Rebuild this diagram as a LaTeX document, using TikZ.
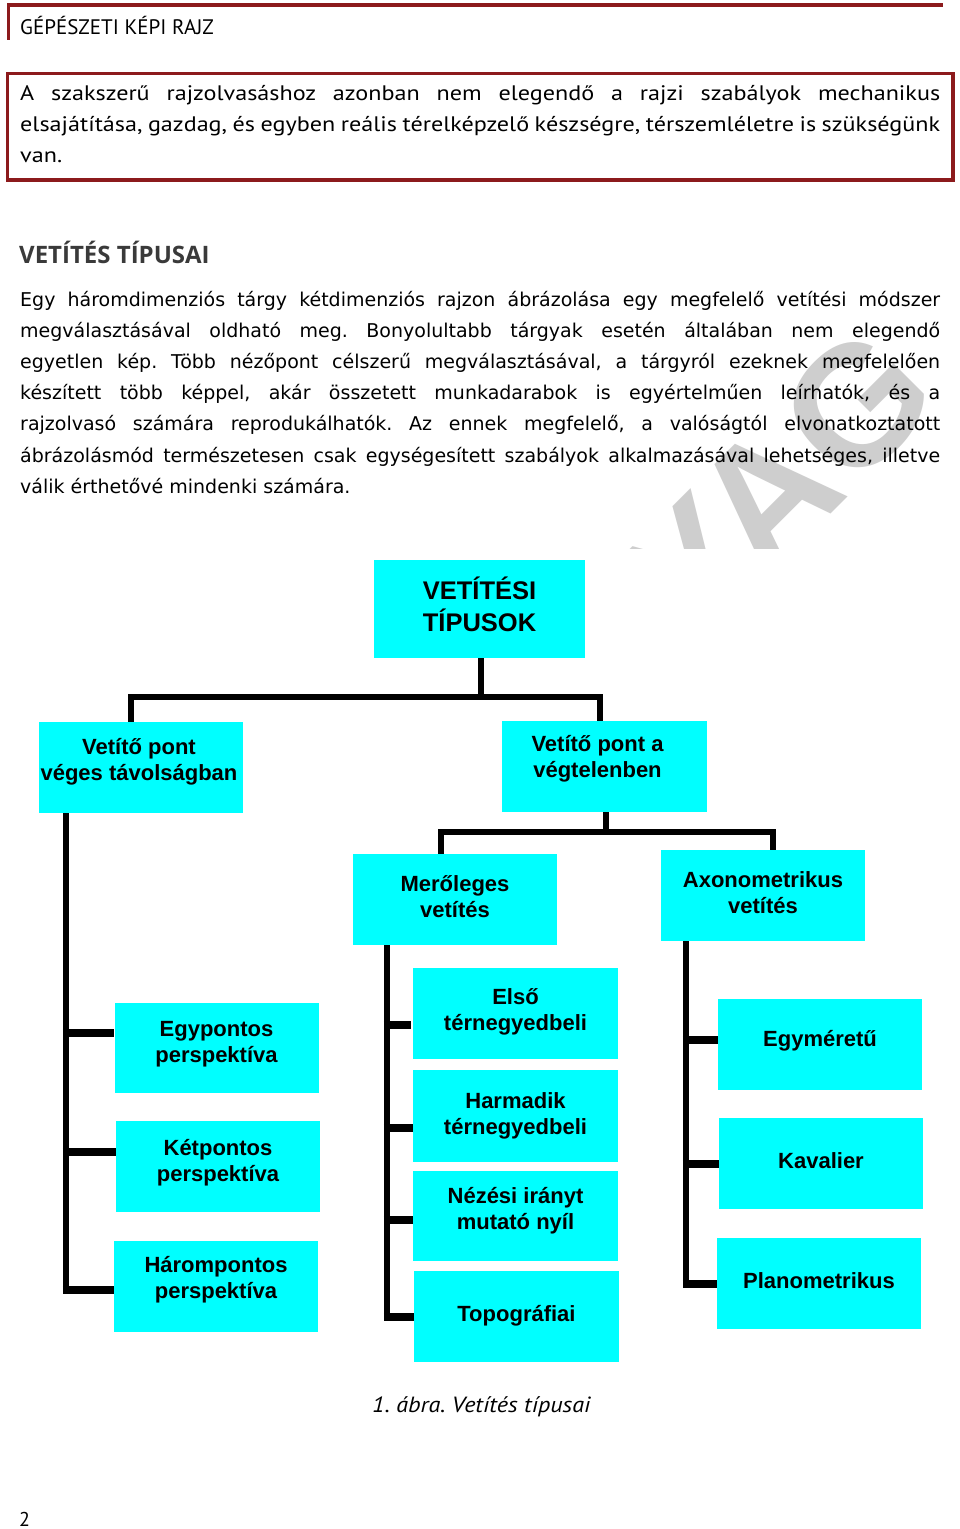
\documentclass[tikz,border=0pt]{standalone}
\usepackage{fontspec}
\setmainfont{DejaVu Sans}
\newfontfamily\ptsans{PT Sans}
\newfontfamily\ptwide[FakeStretch=1.15]{PT Sans}
\newfontfamily\ptcap[FakeStretch=1.1]{PT Sans}
\newfontfamily\osans{Open Sans}
\newfontfamily\lsans{Liberation Sans}
\definecolor{hdrred}{RGB}{140,26,28}
\definecolor{boxcyan}{RGB}{0,255,255}
\definecolor{headgray}{RGB}{58,58,58}
\definecolor{wmgray}{RGB}{206,206,206}
\newcommand{\bt}[2][0]{\raisebox{#1pt}[\height][\depth]{\begin{tabular}{@{}c@{}}#2\end{tabular}}}
\newcommand{\jl}[1]{\makebox[920pt][s]{#1}}
\frenchspacing
\tikzset{
  box/.style={fill=boxcyan, draw=none, minimum width=204pt, minimum height=91pt, inner sep=0pt,
    font=\lsans\bfseries\fontsize{22}{26}\selectfont, text=black},
  conn/.style={draw=black, line width=6.5pt},
  vline/.style={draw=black, line width=6pt},
  stub/.style={draw=black, line width=8pt},
  bodyline/.style={anchor=base west, inner sep=0pt, font=\frenchspacing\fontsize{19}{24}\selectfont},
  boxline/.style={anchor=base west, inner sep=0pt, font=\frenchspacing\ptwide\fontsize{21}{24}\selectfont},
  wm/.style={text=wmgray, inner sep=0pt, font=\lsans\bfseries\fontsize{170}{170}\selectfont},
}
\begin{document}
\begin{tikzpicture}[x=1pt,y=-1pt]
\fill[white] (0,0) rectangle (960,1529);
\useasboundingbox (0,0) rectangle (960,1529);

% watermark
\begin{scope}
\clip (600,330) rectangle (960,548);
\node[wm, rotate=45, anchor=base east] (wmark) at (945,400) {TANANYAG};
\end{scope}

% header
\draw[hdrred, line width=4pt] (7,5) -- (943,5);
\draw[hdrred, line width=3pt] (8.5,5) -- (8.5,40);
\node[anchor=base west, inner sep=0pt, font=\ptsans\fontsize{21}{24}\selectfont] (hdr) at (20,34) {GÉPÉSZETI KÉPI RAJZ};

% framed note
\draw[hdrred, line width=3.5pt] (7.5,73.5) rectangle (953,180);
\node[boxline] (n1) at (20,100) {\jl{A szakszerű rajzolvasáshoz azonban nem elegendő a rajzi szabályok mechanikus}};
\node[boxline] (n2) at (20,131) {\jl{elsajátítása, gazdag, és egyben reális térelképzelő készségre, térszemléletre is szükségünk}};
\node[boxline] (n3) at (20,162) {van.};

% heading
\node[anchor=base west, inner sep=0pt, text=headgray, font=\osans\bfseries\fontsize{24}{30}\selectfont] (head) at (19,263) {VETÍTÉS TÍPUSAI};

% body
\node[bodyline] (b1) at (20,306) {\jl{Egy háromdimenziós tárgy kétdimenziós rajzon ábrázolása egy megfelelő vetítési módszer}};
\node[bodyline] (b2) at (20,337.2) {\jl{megválasztásával oldható meg. Bonyolultabb tárgyak esetén általában nem elegendő}};
\node[bodyline] (b3) at (20,368.4) {\jl{egyetlen kép. Több nézőpont célszerű megválasztásával, a tárgyról ezeknek megfelelően}};
\node[bodyline] (b4) at (20,399.6) {\jl{készített több képpel, akár összetett munkadarabok is egyértelműen leírhatók, és a}};
\node[bodyline] (b5) at (20,430.8) {\jl{rajzolvasó számára reprodukálhatók. Az ennek megfelelő, a valóságtól elvonatkoztatott}};
\node[bodyline] (b6) at (20,462.0) {\jl{ábrázolásmód természetesen csak egységesített szabályok alkalmazásával lehetséges, illetve}};
\node[bodyline] (b7) at (20,493.2) {válik érthetővé mindenki számára.};

% diagram boxes
\node[box, minimum width=211pt, minimum height=98pt, font=\lsans\bfseries\fontsize{25.5}{31}\selectfont] (top) at (479.5,609) {\bt{VETÍTÉSI\\TÍPUSOK}};
\node[box] (vl) at (141,767.5) {\bt[5]{Vetítő pont\\véges távolságban}\kern4pt};
\node[box, minimum width=205pt] (vr) at (604.5,766.5) {\bt[7]{Vetítő pont a\\végtelenben}\kern14pt};
\node[box] (mer) at (455,899.5) {\bt{Merőleges\\vetítés}};
\node[box] (axo) at (763,895.5) {\bt{Axonometrikus\\vetítés}};
\node[box, minimum height=90pt] (e1) at (216.5,1048) {\bt[4]{Egypontos\\perspektíva}};
\node[box] (e2) at (218,1166.5) {\bt[3]{Kétpontos\\perspektíva}};
\node[box] (e3) at (216,1286.5) {\bt[6]{Hárompontos\\perspektíva}};
\node[box, minimum width=205pt] (m1) at (515.5,1013.5) {\bt[1]{Első\\térnegyedbeli}};
\node[box, minimum width=205pt, minimum height=92pt] (m2) at (515.5,1116) {\bt{Harmadik\\térnegyedbeli}};
\node[box, minimum width=205pt, minimum height=90pt] (m3) at (515.5,1216) {\bt[5]{Nézési irányt\\mutató nyíl}};
\node[box, minimum width=205pt] (m4) at (516.5,1316.5) {\bt{Topográfiai}};
\node[box] (r1) at (820,1044.5) {\bt[3]{Egyméretű}};
\node[box] (r2) at (821,1163.5) {\bt{Kavalier}};
\node[box] (r3) at (819,1283.5) {\bt{Planometrikus}};

% first bus
\coordinate (j1) at (481,697);
\draw[conn] ([xshift=1.5pt]top.south) -- ([xshift=1.5pt]top.south |- j1);
\draw[conn] ([xshift=-10pt]vl.north) -- ([xshift=-10pt]vl.north |- j1) -- ([xshift=-4.5pt]vr.north |- j1) -- ([xshift=-4.5pt]vr.north);

% second bus
\coordinate (j2) at (606,832);
\draw[conn] ([xshift=1.5pt]vr.south) -- ([xshift=1.5pt]vr.south |- j2);
\draw[conn] ([xshift=-14pt]mer.north) -- ([xshift=-14pt]mer.north |- j2) -- ([xshift=10pt]axo.north |- j2) -- ([xshift=10pt]axo.north);

% left trunk
\coordinate (tL) at ([xshift=27pt]vl.south west);
\coordinate (sE1) at ([yshift=15pt]e1.west);
\coordinate (sE2) at ([yshift=14.5pt]e2.west);
\coordinate (sE3) at ([yshift=-3.5pt]e3.west);
\coordinate (eL) at ([yshift=-4pt]sE3);
\draw[vline] (tL) -- (tL |- eL);
\draw[stub] ([xshift=-3pt]tL |- sE1) -- (sE1);
\draw[stub] ([xshift=-3pt]tL |- sE2) -- (sE2);
\draw[stub] ([xshift=-3pt]tL |- sE3) -- (sE3);

% middle trunk
\coordinate (tM) at ([xshift=34pt]mer.south west);
\coordinate (sM1) at ([yshift=-11.5pt]m1.west);
\coordinate (sM2) at ([yshift=-12pt]m2.west);
\coordinate (sM3) at ([yshift=-4pt]m3.west);
\coordinate (sM4) at (m4.west);
\coordinate (eM) at ([yshift=-4pt]sM4);
\draw[vline] (tM) -- (tM |- eM);
\draw[stub] ([xshift=-3pt]tM |- sM1) -- ([xshift=-2pt]sM1);
\draw[stub] ([xshift=-3pt]tM |- sM2) -- (sM2);
\draw[stub] ([xshift=-3pt]tM |- sM3) -- (sM3);
\draw[stub] ([xshift=-3pt]tM |- sM4) -- (sM4);

% right trunk
\coordinate (tR) at ([xshift=25pt]axo.south west);
\coordinate (sR1) at ([yshift=4.5pt]r1.west);
\coordinate (sR2) at (r2.west);
\coordinate (sR3) at (r3.west);
\coordinate (eR) at ([yshift=-4pt]sR3);
\draw[vline] (tR) -- (tR |- eR);
\draw[stub] ([xshift=-3pt]tR |- sR1) -- (sR1);
\draw[stub] ([xshift=-3pt]tR |- sR2) -- (sR2);
\draw[stub] ([xshift=-3pt]tR |- sR3) -- (sR3);

% caption and page number
\node[anchor=base west, inner sep=0pt, font=\ptcap\itshape\fontsize{22}{26}\selectfont] (cap) at (372,1412) {1. ábra. Vetítés típusai};
\node[anchor=base west, inner sep=0pt, font=\ptsans\fontsize{20}{24}\selectfont] (pg) at (19,1526) {2};
\end{tikzpicture}
\end{document}
